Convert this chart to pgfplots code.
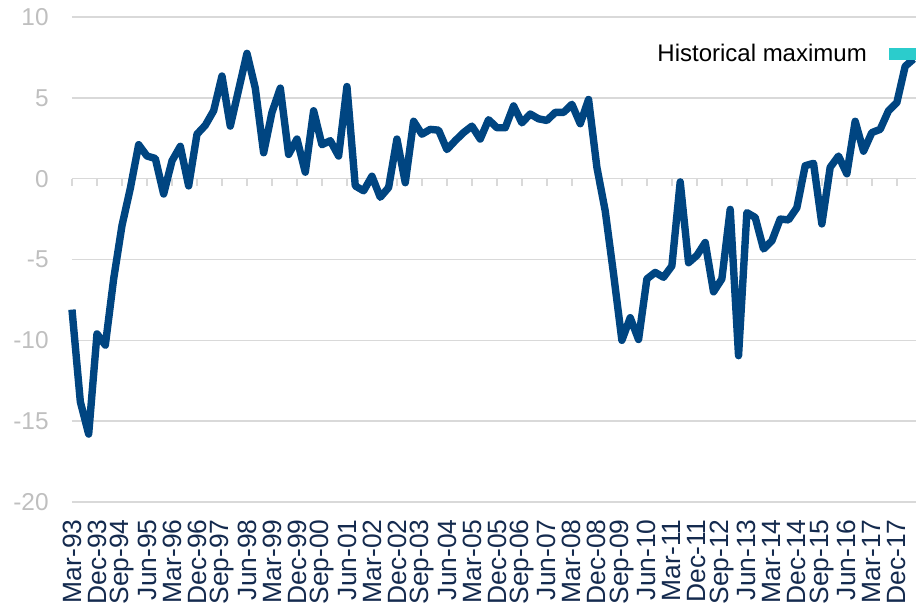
\documentclass[border=0pt]{standalone}
\usepackage{fontspec}
\setmainfont{Liberation Sans}
\usepackage{pgfplots}
\pgfplotsset{compat=1.18}
\definecolor{lineblue}{RGB}{0,69,129}
\definecolor{maxcyan}{RGB}{43,204,204}
\definecolor{ticknavy}{RGB}{20,42,78}
\definecolor{gridgray}{RGB}{217,217,217}
\definecolor{labelgray}{RGB}{191,191,191}

\begin{document}
\begin{tikzpicture}
\useasboundingbox (-36pt,-50.5pt) rectangle (422pt,251pt);
% small tick marks sitting on the zero line
\begin{axis}[
  scale only axis, width=422pt, height=242.5pt,
  xmin=0, xmax=101.3, ymin=-20, ymax=10,
  axis x line=middle, axis y line=none,
  x axis line style={-, draw=none},
  xtick={0,3,...,99}, xticklabels={},
  ytick=\empty,
  xtick align=outside, major tick length=3.5pt,
  tick style={gridgray, line width=0.7pt},
]
\end{axis}
\begin{axis}[
  scale only axis, width=422pt, height=242.5pt,
  xmin=0, xmax=101.3, ymin=-20, ymax=10,
  axis line style={draw=none},
  ymajorgrids, grid style={gridgray, line width=0.7pt},
  ytick={-20,-15,...,10},
  xtick={0,3,...,99},
  xticklabels={Mar-93,Dec-93,Sep-94,Jun-95,Mar-96,Dec-96,Sep-97,Jun-98,Mar-99,Dec-99,
    Sep-00,Jun-01,Mar-02,Dec-02,Sep-03,Jun-04,Mar-05,Dec-05,Sep-06,Jun-07,Mar-08,Dec-08,
    Sep-09,Jun-10,Mar-11,Dec-11,Sep-12,Jun-13,Mar-14,Dec-14,Sep-15,Jun-16,Mar-17,Dec-17},
  xtick pos=lower, ytick pos=left,
  major tick length=0pt,
  /pgf/number format/assume math mode=true,
  yticklabel style={font=\fontsize{12.2}{14}\selectfont, text=labelgray, anchor=east, inner sep=0pt},
  yticklabel shift=11.5pt,
  xticklabel style={font=\fontsize{13.2}{15}\selectfont, text=ticknavy, rotate=90, anchor=east, inner sep=0pt},
  xticklabel shift=8.5pt,
  legend style={at={(rel axis cs:1,0.924)}, anchor=east, draw=none, fill=none,
    font=\fontsize{12}{14}\selectfont, inner sep=0pt, nodes={inner sep=0pt}, column sep=11pt},
  legend plot pos=right,
  clip=false,
]
\addplot[lineblue, line width=3.7pt, line join=round, forget plot] coordinates {
(0,-8.1) (1,-13.8) (2,-15.8) (3,-9.6) (4,-10.3) (5,-6.2) (6,-2.9) (7,-0.6)
(8,2.1) (9,1.4) (10,1.25) (11,-0.95) (12,1.1) (13,2.0) (14,-0.45) (15,2.75)
(16,3.3) (17,4.2) (18,6.35) (19,3.25) (20,5.5) (21,7.75) (22,5.6) (23,1.6)
(24,4.1) (25,5.6) (26,1.5) (27,2.45) (28,0.4) (29,4.2) (30,2.1) (31,2.35)
(32,1.4) (33,5.7) (34,-0.45) (35,-0.75) (36,0.15) (37,-1.15) (38,-0.55) (39,2.45)
(40,-0.25) (41,3.55) (42,2.75) (43,3.05) (44,3.0) (45,1.8) (46,2.35) (47,2.85)
(48,3.25) (49,2.45) (50,3.65) (51,3.15) (52,3.15) (53,4.5) (54,3.45) (55,4.0)
(56,3.7) (57,3.6) (58,4.1) (59,4.1) (60,4.6) (61,3.4) (62,4.9) (63,0.7)
(64,-2.0) (65,-5.9) (66,-10.0) (67,-8.6) (68,-9.95) (69,-6.2) (70,-5.8) (71,-6.1)
(72,-5.4) (73,-0.2) (74,-5.2) (75,-4.75) (76,-3.95) (77,-7.0) (78,-6.2) (79,-1.9)
(80,-10.95) (81,-2.1) (82,-2.4) (83,-4.35) (84,-3.85) (85,-2.5) (86,-2.55) (87,-1.8)
(88,0.8) (89,0.95) (90,-2.8) (91,0.7) (92,1.4) (93,0.3) (94,3.55) (95,1.7)
(96,2.85) (97,3.05) (98,4.2) (99,4.7) (100,6.95) (101,7.4)
};
\addlegendimage{legend image code/.code={\fill[maxcyan] (0pt,-2.6pt) rectangle (13pt,2.6pt);}}
\addlegendentry{Historical maximum}
\end{axis}
\end{tikzpicture}
\end{document}
